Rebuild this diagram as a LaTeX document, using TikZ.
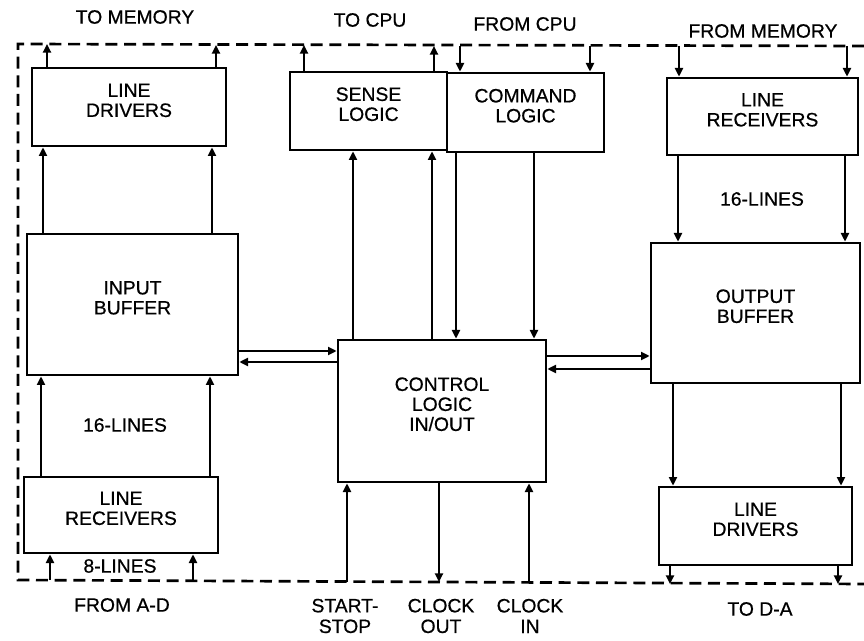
\documentclass[tikz,border=0pt]{standalone}
\usepackage{fontspec}
\setmainfont{Liberation Sans}[FakeBold=0.6]
\usetikzlibrary{arrows.meta,fit}
\begin{document}
\begin{tikzpicture}[x=0.75pt,y=-0.75pt,
  box/.style={draw,line width=2pt,inner sep=0pt,align=center,font=\fontsize{14.5}{15}\selectfont},
  lbl/.style={align=center,inner sep=0pt,font=\fontsize{14.5}{15.5}\selectfont},
  arr/.style={line width=2pt,-{Triangle[length=6.5pt,width=6pt]}},
  frame/.style={line width=2pt,dash pattern=on 9pt off 5pt}]
\useasboundingbox (0,0) rectangle (864,641);
% boxes
\node[box,fit={(32,68)(226,146)}] (ldA) {LINE\\DRIVERS};
\node[box,fit={(290,72)(447,150)}] (sense) {SENSE\\LOGIC};
\node[box,fit={(447,73)(604,152)}] (cmd) {COMMAND\\LOGIC};
\node[box,fit={(667,78)(858,155)}] (lrB) {LINE\\RECEIVERS};
\node[box,fit={(27,234)(238,375)}] (ib) {INPUT\\BUFFER};
\node[box,fit={(651,243)(860,383)}] (ob) {OUTPUT\\BUFFER};
\node[box,fit={(338,340)(546,482)}] (ctl) {CONTROL\\LOGIC\\IN/OUT};
\node[box,fit={(24,477)(218,553)}] (lrA) {LINE\\RECEIVERS};
\node[box,fit={(659,487)(852,565)}] (ldB) {LINE\\DRIVERS};
% dashed frame
\draw[frame] (864,46) -- (18,44) -- (18,580) -- (864,584);
% frame coordinates
\coordinate (a1) at (47,44); \coordinate (a2) at (216,45);
\coordinate (s1) at (304,45); \coordinate (s2) at (434,46);
\coordinate (c1) at (460,46); \coordinate (c2) at (590,46);
\coordinate (m1) at (679,46); \coordinate (m2) at (847,46);
\coordinate (d1) at (50,580); \coordinate (d2) at (193,581);
\coordinate (st) at (347,582); \coordinate (co) at (439,582); \coordinate (ci) at (529,583);
\coordinate (e1) at (670,584); \coordinate (e2) at (838,584);
% column / row coordinates
\coordinate (x1) at (43,0); \coordinate (x2) at (212,0);
\coordinate (x3) at (41,0); \coordinate (x4) at (210,0);
\coordinate (x5) at (353,0); \coordinate (x6) at (432,0);
\coordinate (x7) at (456,0); \coordinate (x8) at (534,0);
\coordinate (x9) at (678,0); \coordinate (x10) at (845,0);
\coordinate (x11) at (673,0); \coordinate (x12) at (841,0);
\coordinate (y1) at (0,351); \coordinate (y2) at (0,362);
\coordinate (y3) at (0,356); \coordinate (y4) at (0,369);
% external connections
\draw[arr] (ldA.north -| a1) -- (a1);
\draw[arr] (ldA.north -| a2) -- (a2);
\draw[arr] (sense.north -| s1) -- (s1);
\draw[arr] (sense.north -| s2) -- (s2);
\draw[arr] (c1) -- (cmd.north -| c1);
\draw[arr] (c2) -- (cmd.north -| c2);
\draw[arr] (m1) -- (lrB.north -| m1);
\draw[arr] (m2) -- (lrB.north -| m2);
\draw[arr] (d1) -- (lrA.south -| d1);
\draw[arr] (d2) -- (lrA.south -| d2);
\draw[arr] (st) -- (ctl.south -| st);
\draw[arr] (ctl.south -| co) -- (co);
\draw[arr] (ci) -- (ctl.south -| ci);
\draw[arr] (ldB.south -| e1) -- (e1);
\draw[arr] (ldB.south -| e2) -- (e2);
% internal connections
\draw[arr] (ib.north -| x1) -- (ldA.south -| x1);
\draw[arr] (ib.north -| x2) -- (ldA.south -| x2);
\draw[arr] (lrA.north -| x3) -- (ib.south -| x3);
\draw[arr] (lrA.north -| x4) -- (ib.south -| x4);
\draw[arr] (ctl.north -| x5) -- (sense.south -| x5);
\draw[arr] (ctl.north -| x6) -- (sense.south -| x6);
\draw[arr] (cmd.south -| x7) -- (ctl.north -| x7);
\draw[arr] (cmd.south -| x8) -- (ctl.north -| x8);
\draw[arr] (lrB.south -| x9) -- (ob.north -| x9);
\draw[arr] (lrB.south -| x10) -- (ob.north -| x10);
\draw[arr] (ob.south -| x11) -- (ldB.north -| x11);
\draw[arr] (ob.south -| x12) -- (ldB.north -| x12);
\draw[arr] (ib.east |- y1) -- (ctl.west |- y1);
\draw[arr] (ctl.west |- y2) -- (ib.east |- y2);
\draw[arr] (ctl.east |- y3) -- (ob.west |- y3);
\draw[arr] (ob.west |- y4) -- (ctl.east |- y4);
% labels
\node[lbl] (tmem) at (135,17) {TO MEMORY};
\node[lbl] (tcpu) at (370,20) {TO CPU};
\node[lbl] (fcpu) at (525,24) {FROM CPU};
\node[lbl] (fmem) at (763,31) {FROM MEMORY};
\node[lbl] (l8) at (120,566) {8-LINES};
\node[lbl] (l16a) at (125,425) {16-LINES};
\node[lbl] (l16b) at (762,199) {16-LINES};
\node[lbl] (fad) at (122,605) {FROM A-D};
\node[lbl] (sst) at (345,616) {START-\\STOP};
\node[lbl] (cko) at (441,616) {CLOCK\\OUT};
\node[lbl] (cki) at (530,616) {CLOCK\\IN};
\node[lbl] (tda) at (760,609) {TO D-A};
\end{tikzpicture}
\end{document}
